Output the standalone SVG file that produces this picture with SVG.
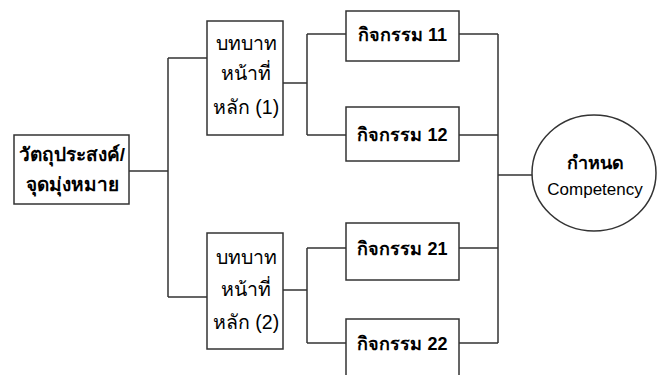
<svg xmlns="http://www.w3.org/2000/svg" width="664" height="375" viewBox="0 0 664 375">
<style>
.box{fill:#fff;stroke:#333;stroke-width:1.5}
.ln{fill:none;stroke:#333;stroke-width:1.5}
text{font-family:"Liberation Sans","Noto Sans",sans-serif;font-size:18px;fill:#000;text-anchor:middle;dominant-baseline:central}
.b{font-weight:bold}
.r{font-size:19.5px}
.o{font-size:19px;font-weight:bold}
</style>
<rect width="664" height="375" fill="#fff"/>
<g id="connectors">
<path class="ln" d="M129,171H168M168,58V297M168,58H207M168,297H207"/>
<path class="ln" d="M283,83H307M307,34V135M307,34H346M307,135H346"/>
<path class="ln" d="M283,290H307M307,248V343M307,248H346M307,343H346"/>
<path class="ln" d="M459,34H498M459,135H498M459,248H498M459,343H498M498,34V343M498,175H532"/>
</g>
<g id="objective">
<rect class="box" x="14" y="135" width="115" height="69"/>
<text class="o" x="72" y="154">วัตถุประสงค์/</text>
<text class="o" x="72" y="184">จุดมุ่งหมาย</text>
</g>
<g id="role1">
<rect class="box" x="207" y="21" width="76" height="114"/>
<text class="r" x="246" y="43">บทบาท</text>
<text class="r" x="246" y="73">หน้าที่</text>
<text class="r" x="246" y="107">หลัก (1)</text>
</g>
<g id="role2">
<rect class="box" x="207" y="233" width="76" height="116"/>
<text class="r" x="246" y="257">บทบาท</text>
<text class="r" x="246" y="289">หน้าที่</text>
<text class="r" x="246" y="322">หลัก (2)</text>
</g>
<g id="act11">
<rect class="box" x="346" y="11" width="113" height="50"/>
<text class="b" x="402.5" y="35">กิจกรรม 11</text>
</g>
<g id="act12">
<rect class="box" x="346" y="107" width="113" height="54"/>
<text class="b" x="402.5" y="135">กิจกรรม 12</text>
</g>
<g id="act21">
<rect class="box" x="346" y="223" width="113" height="57"/>
<text class="b" x="402.5" y="249">กิจกรรม 21</text>
</g>
<g id="act22">
<rect class="box" x="346" y="319" width="113" height="58"/>
<text class="b" x="402.5" y="344">กิจกรรม 22</text>
</g>
<g id="competency">
<ellipse class="box" cx="594" cy="173" rx="62" ry="58"/>
<text class="b" x="595" y="163">กำหนด</text>
<text x="595" y="189" style="font-size:17px">Competency</text>
</g>
</svg>
